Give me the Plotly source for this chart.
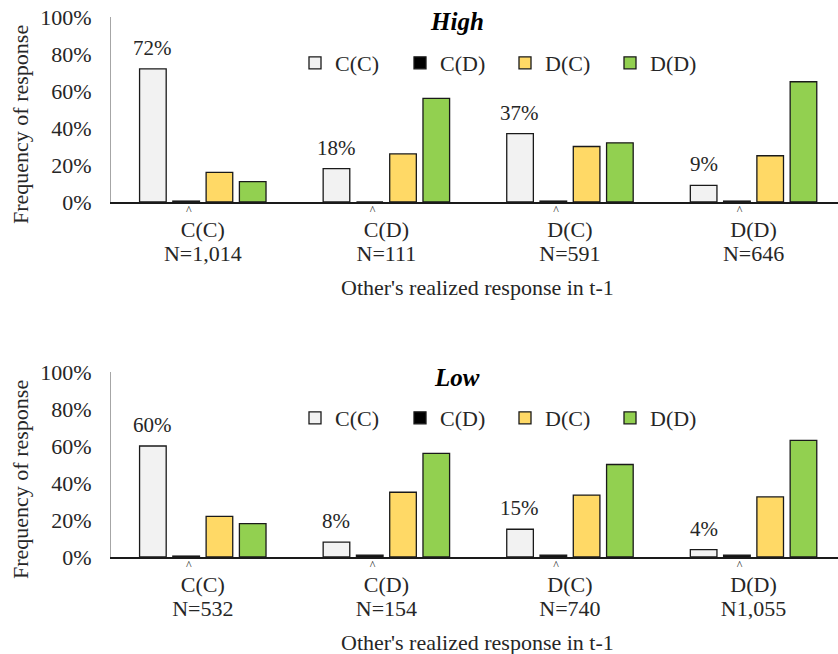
import plotly.graph_objects as go

# ---------------- data ----------------
categories = ["C(C)", "C(D)", "D(C)", "D(D)"]
series_names = ["C(C)", "C(D)", "D(C)", "D(D)"]
series_colors = ["#f2f2f2", "#000000", "#ffd966", "#92d050"]

high_n = ["N=1,014", "N=111", "N=591", "N=646"]
high_cc = [0.72, 0.18, 0.37, 0.09]
high_cd = [0.005, 0.0, 0.005, 0.005]
high_dc = [0.16, 0.26, 0.30, 0.25]
high_dd = [0.11, 0.56, 0.32, 0.65]

low_n = ["N=532", "N=154", "N=740", "N1,055"]
low_cc = [0.60, 0.08, 0.15, 0.04]
low_cd = [0.005, 0.01, 0.01, 0.01]
low_dc = [0.22, 0.35, 0.335, 0.325]
low_dd = [0.18, 0.56, 0.50, 0.63]

yticks = [0, 0.2, 0.4, 0.6, 0.8, 1.0]
ytick_labels = ["0%", "20%", "40%", "60%", "80%", "100%"]

FONT = "Liberation Serif, Times New Roman, serif"
TXT = "#262626"
W, H = 838, 654
FS = 22

panels = [
    dict(title="High", n=high_n, vals=[high_cc, high_cd, high_dc, high_dd],
         xa="x", ya="y", legend="legend", top=17, bottom=202),
    dict(title="Low", n=low_n, vals=[low_cc, low_cd, low_dc, low_dd],
         xa="x2", ya="y2", legend="legend2", top=372, bottom=557),
]

fig = go.Figure()
annotations = []
pad = "\u00a0" * 6
for p in panels:
    for name, color, vals in zip(series_names, series_colors, p["vals"]):
        fig.add_trace(go.Bar(
            x=categories, y=vals, name=name, xaxis=p["xa"], yaxis=p["ya"],
            marker=dict(color=color, line=dict(color="#1a1a1a", width=1.3)),
            legend=p["legend"], hoverinfo="skip",
        ))
    # percentage labels over the first series
    for c, v in zip(categories, p["vals"][0]):
        annotations.append(dict(
            x=c, y=v, xref=p["xa"], yref=p["ya"], text=f"{v:.0%}",
            showarrow=False, xshift=-50, yanchor="bottom", yshift=7,
            font=dict(family=FONT, size=21, color=TXT)))
    # panel title
    annotations.append(dict(
        x=457 / W, y=1 - (p["top"] + 5) / H, xref="paper", yref="paper",
        text="<b><i>" + p["title"] + "</i></b>", showarrow=False,
        font=dict(family=FONT, size=25, color="#000"), yanchor="middle"))
    # y title
    annotations.append(dict(
        x=20 / W, y=1 - (p["top"] + 108) / H, xref="paper", yref="paper",
        text="Frequency of response", textangle=-90, showarrow=False,
        font=dict(family=FONT, size=FS, color=TXT), xanchor="center", yanchor="middle"))
    # x title
    annotations.append(dict(
        x=477 / W, y=1 - (p["bottom"] + 85) / H, xref="paper", yref="paper",
        text="Other's realized response in t-1", showarrow=False,
        font=dict(family=FONT, size=FS, color=TXT), yanchor="middle"))

def ticktext(ns):
    big = f"<span style='font-size:{FS}px'>"
    return [f"<span style='font-size:12px;baseline-shift:-1px'>^</span>{pad}<br>{big}{c}</span><br>{big}{n}</span>"
            for c, n in zip(categories, ns)]

xdom = [111 / W, 1.0]
xrange = [-0.5, 3.46]
common_x = dict(domain=xdom, range=xrange, showline=True, linecolor="#1a1a1a", linewidth=1.5,
                ticks="", showgrid=False, zeroline=False,
                tickfont=dict(family=FONT, size=18.5, color=TXT),
                tickmode="array", tickvals=categories, automargin=False, ticklabelstandoff=-13)
common_y = dict(range=[0, 1], showline=True, linecolor="#a6a6a6", linewidth=1, ticks="",
                showgrid=False, zeroline=False, tickvals=yticks, ticktext=ytick_labels,
                tickfont=dict(family=FONT, size=FS, color=TXT), automargin=False,
                ticklabelstandoff=14)

legend_common = dict(orientation="h", yanchor="middle", xanchor="left",
                     entrywidth=60, font=dict(family=FONT, size=FS, color=TXT),
                     bgcolor="rgba(0,0,0,0)", traceorder="normal")

fig.update_layout(
    width=W, height=H, margin=dict(l=0, r=0, t=0, b=0),
    paper_bgcolor="white", plot_bgcolor="white",
    barmode="group", bargap=0.275, bargroupgap=0.2,
    font=dict(family=FONT, size=FS, color=TXT),
    xaxis=dict(common_x, anchor="y", ticktext=ticktext(high_n)),
    yaxis=dict(common_y, anchor="x", domain=[1 - 202 / H, 1 - 17 / H]),
    xaxis2=dict(common_x, anchor="y2", ticktext=ticktext(low_n)),
    yaxis2=dict(common_y, anchor="x2", domain=[1 - 557 / H, 1 - 372 / H]),
    legend=dict(legend_common, x=295 / W, y=1 - 63 / H),
    legend2=dict(legend_common, x=295 / W, y=1 - 418 / H),
    annotations=annotations,
    showlegend=True,
)

fig.write_html("out.html")
